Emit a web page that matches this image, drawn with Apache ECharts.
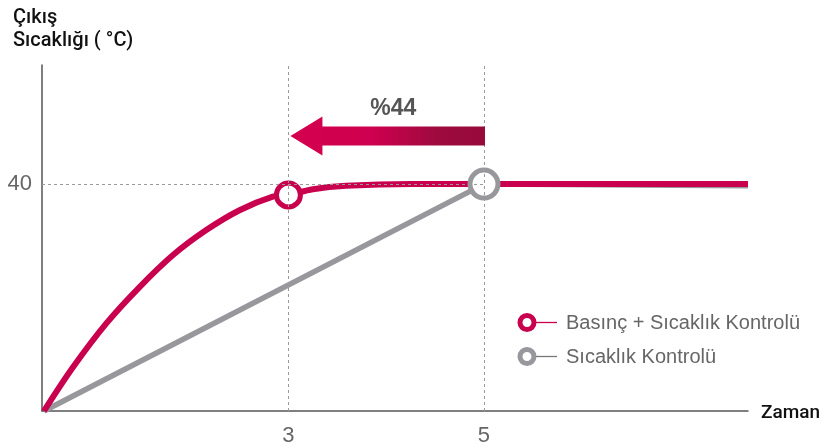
<!DOCTYPE html>
<html><head><meta charset="utf-8">
<script src="https://cdn.jsdelivr.net/npm/echarts@6/dist/echarts.min.js"></script>
<style>html,body{margin:0;padding:0;background:#fff}#c{width:827px;height:447px}</style>
</head><body><div id="c"></div>
<script>
// ---- data ----
var seriesNames = ['Basınç + Sıcaklık Kontrolü', 'Sıcaklık Kontrolü'];
var pressureTempX = [0.5, 0.8, 1.14, 1.48, 1.82, 2.16, 2.5, 2.84, 3.0, 3.25, 3.59, 4.26, 5.0, 7.7];
var pressureTempY = [0, 7.8, 15.5, 21.9, 27.5, 31.9, 35.4, 37.8, 38.1, 39.1, 39.7, 40.0, 40.0, 40.0];
var tempOnlyX = [0.5, 5.0, 7.7];
var tempOnlyY = [0, 40, 39.7];
var pressureTempMarker = [3, 38.1];
var tempOnlyMarker = [5, 40];
var xTickLabels = [3, 5];
var yTickLabels = [40];
var refLevel = 40;
var arrowFromX = 5, arrowToX = 3, arrowLevelY = 48.5;
var arrowLabel = '%44';
var yAxisTitle = 'Çıkış\nSıcaklığı ( °C)';
var xAxisTitle = 'Zaman';

var RED = '#c8004d', GRAY = '#98979c', FONT = '"Liberation Sans", Arial, Helvetica, sans-serif';
var TFONT = 'Roboto, "Liberation Sans", Arial, sans-serif';
function pairs(xs, ys){ return xs.map(function(x,i){ return [x, ys[i]]; }); }

var chart = echarts.init(document.getElementById('c'));
var option = {
  animation: false,
  textStyle: {fontFamily: FONT},
  grid: {left: 42, right: 79, top: 65, bottom: 35.5},
  xAxis: {
    type: 'value', min: 0.48, max: 7.7,
    axisLine: {show: true, lineStyle: {color: '#555', width: 1.5}},
    axisTick: {show: false}, splitLine: {show: false},
    axisLabel: {customValues: xTickLabels, color: '#666', fontSize: 22, margin: 14, fontFamily: FONT}
  },
  yAxis: {
    type: 'value', min: 0, max: 61,
    axisLine: {show: true, lineStyle: {color: '#555', width: 1.5}},
    axisTick: {show: false}, splitLine: {show: false},
    axisLabel: {customValues: yTickLabels, color: '#666', fontSize: 22, margin: 10, fontFamily: FONT}
  },
  series: [
    {type: 'line', data: [], z: 1, silent: true,
     markLine: {silent: true, symbol: 'none', label: {show: false},
       lineStyle: {color: '#9a9a9a', width: 1, type: [3, 3]},
       data: [
         {xAxis: xTickLabels[0]}, {xAxis: xTickLabels[1]},
         [{coord: [0.48, refLevel]}, {coord: [xTickLabels[1], refLevel]}]
       ]}},
    {name: seriesNames[1], type: 'line', data: pairs(tempOnlyX, tempOnlyY), z: 2,
     showSymbol: false, lineStyle: {color: GRAY, width: 5.5}, itemStyle: {color: GRAY}},
    {name: seriesNames[0], type: 'line', data: pairs(pressureTempX, pressureTempY), z: 3,
     smooth: 0.35, showSymbol: false, lineStyle: {color: RED, width: 6}, itemStyle: {color: RED}},
    {type: 'scatter', data: [pressureTempMarker], z: 4, symbolSize: 24,
     itemStyle: {color: '#fff', borderColor: RED, borderWidth: 5, opacity: 1}},
    {type: 'scatter', data: [tempOnlyMarker], z: 4, symbolSize: 28,
     itemStyle: {color: '#fff', borderColor: GRAY, borderWidth: 5, opacity: 1}}
  ]
};
chart.setOption(option);

// annotations computed through the chart's scales
var tail = chart.convertToPixel({gridIndex: 0}, [arrowFromX, arrowLevelY]);
var tip = chart.convertToPixel({gridIndex: 0}, [arrowToX, arrowLevelY]);
var headLen = 32, headHalf = 19.5, shaftHalf = 9.5, cy = tail[1];
var tipX = tip[0] + 2, tailX = tail[0] + 1;
var arrowPts = [[tipX, cy], [tipX + headLen, cy - headHalf], [tipX + headLen, cy - shaftHalf],
  [tailX, cy - shaftHalf], [tailX, cy + shaftHalf], [tipX + headLen, cy + shaftHalf], [tipX + headLen, cy + headHalf]];

chart.setOption({graphic: [
  {type: 'polygon', shape: {points: arrowPts}, z: 10,
   style: {fill: new echarts.graphic.LinearGradient(0, 0, 1, 0, [
     {offset: 0, color: '#d3004f'}, {offset: 0.42, color: '#cf004f'},
     {offset: 0.75, color: '#9e0a3e'}, {offset: 1, color: '#980a3b'}])}},
  {type: 'text', x: (tip[0] + tail[0]) / 2 + 7, y: cy - 27, z: 10,
   style: {text: arrowLabel, fill: '#555', font: 'bold 23px ' + FONT, textAlign: 'center', textVerticalAlign: 'middle'}},
  {type: 'text', x: 13, y: 6, z: 10,
   style: {text: yAxisTitle, fill: '#111', font: '500 20px ' + TFONT, lineHeight: 23, textAlign: 'left', textVerticalAlign: 'top'}},
  {type: 'text', x: 761, y: 413, z: 10,
   style: {text: xAxisTitle, fill: '#111', font: '500 19px ' + TFONT, textAlign: 'left', textVerticalAlign: 'middle'}},
  // legend
  {type: 'line', shape: {x1: 530, y1: 322.5, x2: 557, y2: 322.5}, style: {stroke: RED, lineWidth: 1.3}, z: 10},
  {type: 'circle', shape: {cx: 527, cy: 322.5, r: 7}, style: {fill: '#fff', stroke: RED, lineWidth: 5}, z: 11},
  {type: 'text', x: 566, y: 323, z: 10,
   style: {text: seriesNames[0], fill: '#666', font: '20px ' + FONT, textAlign: 'left', textVerticalAlign: 'middle'}},
  {type: 'line', shape: {x1: 530, y1: 356.5, x2: 557, y2: 356.5}, style: {stroke: '#777', lineWidth: 1.3}, z: 10},
  {type: 'circle', shape: {cx: 527, cy: 356.5, r: 7}, style: {fill: '#fff', stroke: GRAY, lineWidth: 5}, z: 11},
  {type: 'text', x: 566, y: 357, z: 10,
   style: {text: seriesNames[1], fill: '#666', font: '20px ' + FONT, textAlign: 'left', textVerticalAlign: 'middle'}}
]});
</script></body></html>
